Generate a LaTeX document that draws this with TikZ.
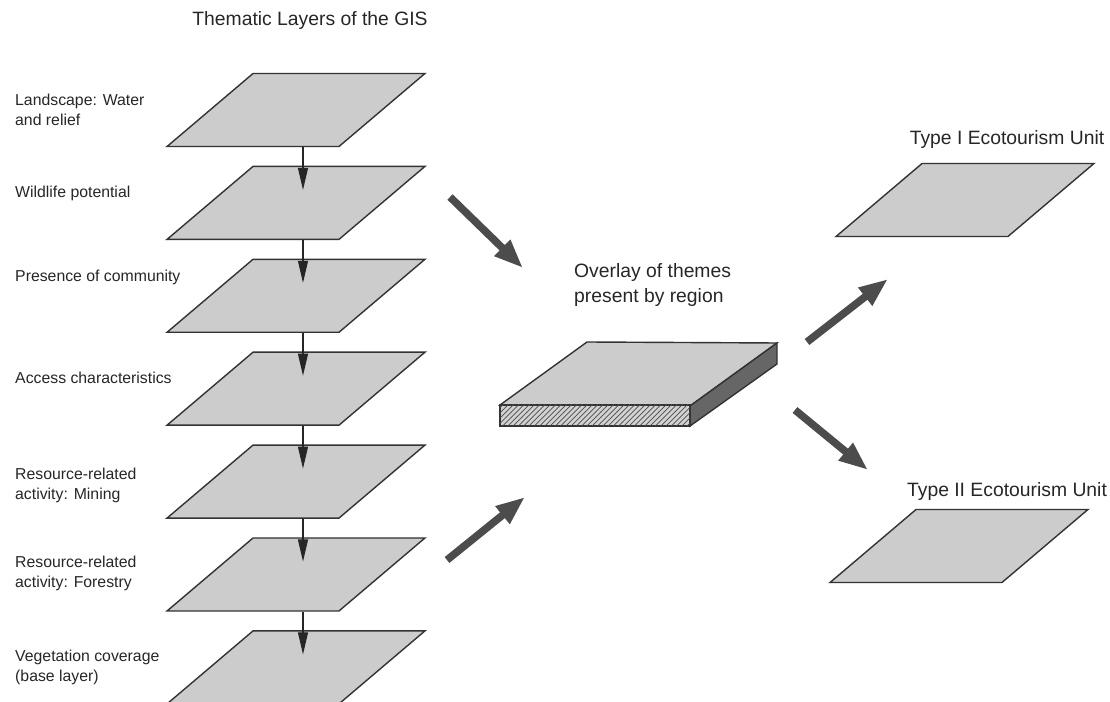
\documentclass[tikz,border=0pt]{standalone}
\usepackage{fontspec}
\setmainfont{Liberation Sans}
\usepackage{tikz}
\usetikzlibrary{positioning,arrows.meta,shapes.geometric,patterns}

\begin{document}
\begin{tikzpicture}[
  x=0.02cm, y=-0.02cm,
  layer/.style={trapezium, trapezium left angle=45, trapezium right angle=135, trapezium stretches=true,
    minimum width=5.16cm, minimum height=1.46cm, inner sep=1pt, draw=black!80, line width=0.8pt, fill=gray!40},
  lbl/.style={anchor=west, align=left, font=\fontsize{9}{11.4}\selectfont, text=black!85},
  head/.style={font=\fontsize{11}{13.7}\selectfont, text=black!85},
  down/.style={-{Triangle[length=4.4mm,width=2mm]}, black!85, line width=0.6pt, shorten >=0.26cm},
  fat/.style={-{Triangle[length=0.58cm,width=0.42cm]}, line width=4.3pt, black!70}
]
\useasboundingbox (0,0) rectangle (1110,702);

% thematic layers
\node[head] (title) at (310,21) {Thematic Layers of the GIS};
\node[layer] (l1) at (296,110) {};
\node[layer, below=0.37cm of l1] (l2) {};
\node[layer, below=0.37cm of l2] (l3) {};
\node[layer, below=0.37cm of l3] (l4) {};
\node[layer, below=0.37cm of l4] (l5) {};
\node[layer, below=0.37cm of l5] (l6) {};
\node[layer, below=0.37cm of l6] (l7) {};

\node[lbl] (t1) at (9,110) {Landscape: Water\\and relief};
\node[lbl] (t2) at (9,193) {Wildlife potential};
\node[lbl] (t3) at (9,277) {Presence of community};
\node[lbl] (t4) at (9,378) {Access characteristics};
\node[lbl] (t5) at (9,485) {Resource-related\\activity: Mining};
\node[lbl] (t6) at (9,573) {Resource-related\\activity: Forestry};
\node[lbl] (t7) at (9,667) {Vegetation coverage\\(base layer)};

\foreach \a/\b in {l1/l2,l2/l3,l3/l4,l4/l5,l5/l6,l6/l7}
  \draw[down] ([xshift=0.14cm]\a.south) -- ([xshift=0.14cm]\b.center);

% overlay slab
\node[head, anchor=west, align=left] (ovl) at (568,285) {Overlay of themes\\present by region};
\filldraw[fill=gray!40, draw=black!80, line width=0.8pt] (500,405) -- (587,342) -- (777,343) -- (690,406) -- cycle;
\filldraw[fill=black!60, draw=black!80, line width=0.8pt] (690,406) -- (777,343) -- (777,364) -- (690,426) -- cycle;
\filldraw[fill=gray!35, draw=black!80, line width=0.8pt] (500,405) rectangle (690,426);
\fill[pattern=north east lines, pattern color=black!70] (500,405) rectangle (690,426);

% ecotourism units
\node[head] (u1) at (1007,140) {Type I Ecotourism Unit};
\node[layer] (e1) at (965,200) {};
\node[head] (u2) at (1007,492) {Type II Ecotourism Unit};
\node[layer] (e2) at (959,546) {};

\coordinate (a1s) at (450,197);
\coordinate (a1e) at (523,268);
\coordinate (a2s) at (447,560);
\coordinate (a2e) at (525,497);
\coordinate (a3s) at (807,342);
\coordinate (a3e) at (888,279);
\coordinate (a4s) at (795,410);
\coordinate (a4e) at (868,470);

\draw[fat] (a1s) -- (a1e);
\draw[fat] (a2s) -- (a2e);
\draw[fat] (a3s) -- (a3e);
\draw[fat] (a4s) -- (a4e);

\end{tikzpicture}
\end{document}
